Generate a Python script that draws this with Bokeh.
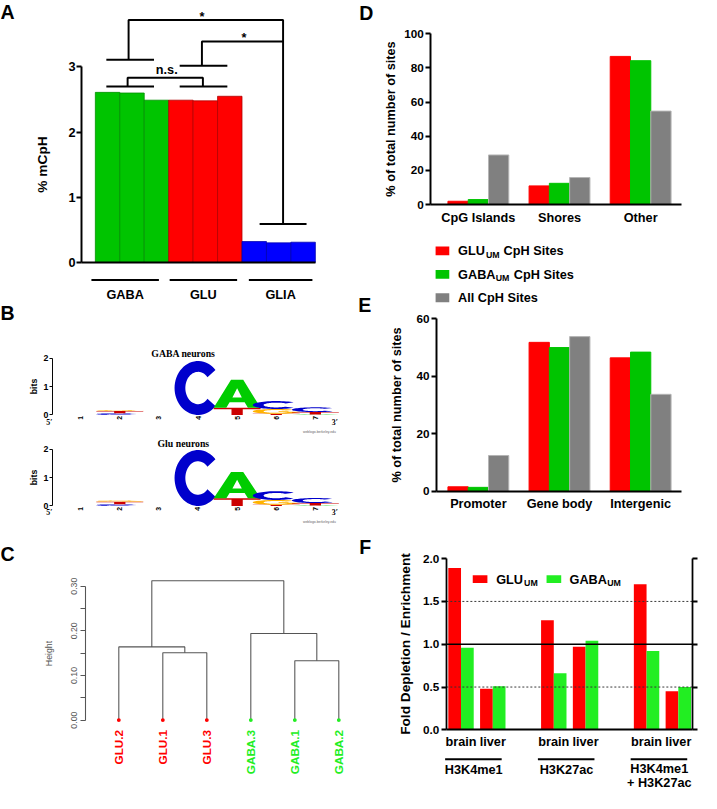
import math
from bokeh.plotting import figure
from bokeh.layouts import row, column
from bokeh.models import Range1d, LinearAxis, FixedTicker, PrintfTickFormatter
from bokeh.core.properties import value
from bokeh.embed import file_html
from bokeh.resources import INLINE

S = 701 / 717.0
SANS = "Liberation Sans"
SERIF = "Liberation Serif"

# ---------------- data ----------------
# Panel A : % mCpH per replicate
a_groups = ["GABA", "GLU", "GLIA"]
a_values = [2.61, 2.60, 2.49, 2.49, 2.48, 2.55, 0.32, 0.30, 0.31]
a_ticks = [0, 1, 2, 3]

# Panel B : sequence logos (letter, bits) stacked bottom -> top per position
logo_positions = [1, 2, 3, 4, 5, 6, 7]
gaba_stacks = [
    [],
    [("C", 0.06), ("T", 0.08), ("G", 0.03)],
    [],
    [("C", 1.90)],
    [("T", 0.25), ("A", 0.99)],
    [("T", 0.04), ("G", 0.17), ("C", 0.28)],
    [("A", 0.02), ("T", 0.08), ("C", 0.17)],
]
glu_stacks = [
    [],
    [("C", 0.06), ("T", 0.09), ("G", 0.04)],
    [],
    [("C", 1.97)],
    [("T", 0.27), ("A", 0.93)],
    [("T", 0.04), ("G", 0.17), ("C", 0.31)],
    [("A", 0.02), ("T", 0.08), ("C", 0.18)],
]
logo_bits_ticks = [0, 1, 2]

# Panel C : hierarchical clustering
c_leaves = ["GLU.2", "GLU.1", "GLU.3", "GABA.3", "GABA.1", "GABA.2"]
c_merge_a = ["GLU.1", "GLU.2", "GABA.1", "GABA.3", "m1"]
c_merge_b = ["GLU.3", "m0", "GABA.2", "m2", "m3"]
c_merge_h = [0.151, 0.164, 0.133, 0.194, 0.312]
c_ticks = [0.0, 0.1, 0.2, 0.3]
c_minor = [0.05, 0.15, 0.25]

# Panel D
d_categories = ["CpG Islands", "Shores", "Other"]
d_glu = [1.9, 10.9, 86.7]
d_gaba = [2.9, 12.4, 84.2]
d_all = [29.0, 15.8, 54.7]
d_ticks = [0, 20, 40, 60, 80, 100]

# Panel E
e_categories = ["Promoter", "Gene body", "Intergenic"]
e_glu = [1.5, 51.8, 46.4]
e_gaba = [1.3, 50.0, 48.4]
e_all = [12.4, 53.8, 33.7]
e_ticks = [0, 20, 40, 60]

# Panel F
f_marks = ["H3K4me1", "H3K27ac", "H3K4me1 + H3K27ac"]
f_tissues = ["brain", "liver"]
f_glu = [1.89, 0.48, 1.28, 0.97, 1.70, 0.45]
f_gaba = [0.96, 0.51, 0.66, 1.04, 0.92, 0.50]
f_ticks = [0.0, 0.5, 1.0, 1.5, 2.0]

series_names = ["GLU", "GABA", "All CpH Sites"]

RED = "#FF0000"
GREEN = "#00C400"
GRAY = "#808080"
BLUE = "#0000FF"
LIME = "#22EE22"


def fs(n):
    return "%.2fpx" % (n * S)


def ipx(n):
    return int(round(n * S))


def make_fig(box, xcal, ycal):
    bx0, by0, bx1, by1 = box
    W = round(bx1 * S) - round(bx0 * S)
    H = round(by1 * S) - round(by0 * S)
    (xp0, xv0), (xp1, xv1) = xcal
    (yp0, yv0), (yp1, yv1) = ycal
    kx = (xv1 - xv0) / (xp1 - xp0)
    ky = (yv1 - yv0) / (yp1 - yp0)

    def X(px):
        return xv0 + (px - xp0) * kx

    def Y(py):
        return yv0 + (py - yp0) * ky

    p = figure(width=W, height=H, x_range=Range1d(X(bx0), X(bx1)),
               y_range=Range1d(Y(by1), Y(by0)), output_backend="svg",
               toolbar_location=None, tools="", min_border=0,
               x_axis_location=None, y_axis_location=None)
    p.outline_line_color = None
    p.background_fill_color = "white"
    p.border_fill_color = "white"
    p.xgrid.visible = False
    p.ygrid.visible = False
    p.grid.grid_line_color = None
    return p, X, Y, kx, ky


def style_axis(ax, size, bold=True, lw=2.0, tick_out=5, color="black",
               font=SANS, label_size=None, std=2, lstd=5):
    ax.axis_line_width = lw * S
    ax.axis_line_color = color
    ax.major_tick_line_width = lw * S
    ax.major_tick_line_color = color
    ax.major_tick_out = ipx(tick_out)
    ax.major_tick_in = 0
    ax.minor_tick_line_color = None
    ax.major_label_text_font = font
    ax.major_label_text_font_size = fs(size)
    ax.major_label_text_font_style = "bold" if bold else "normal"
    ax.major_label_text_color = color
    ax.major_label_standoff = ipx(std)
    ax.axis_label_text_font = font
    ax.axis_label_text_font_size = fs(label_size or size)
    ax.axis_label_text_font_style = "bold" if bold else "normal"
    ax.axis_label_text_color = color
    ax.axis_label_standoff = ipx(lstd)


def txt(p, x, y, s, size, color="black", bold=True, font=SANS,
        align="center", baseline="middle", angle=0.0):
    p.text(x=[x], y=[y], text=[s], text_font=value(font),
           text_font_size=value(fs(size)),
           text_font_style="bold" if bold else "normal",
           text_color=color, text_align=align, text_baseline=baseline,
           angle=angle)


def panel_letter(p, X, Y, px, py, s):
    txt(p, X(px), Y(py), s, 20, align="left", baseline="top")


# ================= Panel A =================
A, AX, AY, akx, aky = make_fig((0, 0, 360, 308), ((109.5, 0), (134.5, 1)), ((268, 0), (68, 3)))
a_fill = []
a_line = []
for g in range(len(a_groups)):
    a_fill += [[GREEN, RED, BLUE][g]] * 3
    a_line += [["#009000", "#B00000", "#0000B0"][g]] * 3
A.vbar(x=list(range(len(a_values))), width=1.0, bottom=0, top=a_values,
       fill_color=a_fill, line_color=a_line, line_width=0.8 * S)

ya = LinearAxis(fixed_location=AX(83), bounds=(0, 3), ticker=FixedTicker(ticks=a_ticks),
                axis_label="% mCpH")
style_axis(ya, 13, std=1, lstd=15, label_size=14)
A.add_layout(ya, "left")
xa = LinearAxis(fixed_location=0, bounds=(AX(83), AX(322)), ticker=FixedTicker(ticks=[]))
style_axis(xa, 13)
A.add_layout(xa, "below")

# significance brackets (annotation, in bar / value units)
br_x = [[-0.05, 1.9], [2.95, 4.9], [0.82, 0.82, 3.9, 3.9],
        [-0.05, 1.9], [2.95, 4.9], [6.22, 8.14],
        [0.86, 0.86, 7.18, 7.18], [3.86, 3.86, 7.18]]
br_y = [[2.70, 2.70], [2.70, 2.70], [2.70, 2.835, 2.835, 2.70],
        [3.11, 3.11], [3.02, 3.02], [0.59, 0.59],
        [3.11, 3.72, 3.72, 0.59], [3.02, 3.39, 3.39]]
A.multi_line(xs=br_x, ys=br_y, line_color="black", line_width=2 * S)
txt(A, 2.42, 2.96, "n.s.", 13)
txt(A, 3.86, AY(16), "*", 13)
txt(A, 5.58, AY(38), "*", 13)

# group labels below the axis
grp_lo = [-0.66, 2.54, 5.78]
grp_hi = [2.10, 5.30, 8.38]
A.multi_line(xs=[[l, h] for l, h in zip(grp_lo, grp_hi)], ys=[[AY(286)] * 2] * 3,
             line_color="black", line_width=2 * S)
for g, name in enumerate(a_groups):
    txt(A, (grp_lo[g] + grp_hi[g]) / 2, AY(301), name, 13)
panel_letter(A, AX, AY, 0, 0, "A")

# ================= Panel B =================
LOGO_COL = {"A": "#00CC00", "C": "#0000CC", "G": "#FFB300", "T": "#CC0000"}


def arc_ring(a0, a1, ro_x, ro_y, ri_x, ri_y, n=48):
    xs, ys = [], []
    for k in range(n + 1):
        t = a0 + (a1 - a0) * k / n
        xs.append(0.5 + ro_x * math.cos(t))
        ys.append(0.5 + ro_y * math.sin(t))
    for k in range(n + 1):
        t = a1 - (a1 - a0) * k / n
        xs.append(0.5 + ri_x * math.cos(t))
        ys.append(0.5 + ri_y * math.sin(t))
    return xs, ys


def unit_shape(letter):
    if letter == "C":
        return [[arc_ring(math.radians(42), math.radians(318), 0.5, 0.5, 0.27, 0.30)]]
    if letter == "G":
        ring = arc_ring(math.radians(40), math.radians(360), 0.5, 0.5, 0.27, 0.30)
        bar = ([0.55, 1.0, 1.0, 0.55], [0.36, 0.36, 0.52, 0.52])
        return [[ring], [bar]]
    if letter == "A":
        outer = ([0.0, 0.37, 0.63, 1.0, 0.73, 0.66, 0.34, 0.27],
                 [0.0, 1.0, 1.0, 0.0, 0.0, 0.2, 0.2, 0.0])
        hole = ([0.40, 0.60, 0.50], [0.37, 0.37, 0.70])
        return [[outer, hole]]
    # T
    return [[([0, 1, 1, 0.62, 0.62, 0.38, 0.38, 0], [1, 1, 0.82, 0.82, 0, 0, 0.82, 0.82])]]


def draw_logo(p, stacks, width):
    XS, YS, COLS = [], [], []
    for pos, stack in zip(logo_positions, stacks):
        y0 = 0.0
        for letter, h in stack:
            polys_x, polys_y = [], []
            for poly in unit_shape(letter):
                rx, ry = [], []
                for ring_x, ring_y in poly:
                    rx.append([pos + (u - 0.5) * width for u in ring_x])
                    ry.append([y0 + v * h for v in ring_y])
                polys_x.append(rx)
                polys_y.append(ry)
            XS.append(polys_x)
            YS.append(polys_y)
            COLS.append(LOGO_COL[letter])
            y0 += h
    p.multi_polygons(xs=XS, ys=YS, fill_color=COLS, line_color=None)


def logo_panel(box, base_px, title, title_py, lab_py, web_py, letter=None):
    p, X, Y, kx, ky = make_fig(box, ((82, 1), (122, 2)), ((base_px, 0), (base_px - 29, 1)))
    draw_logo(p, title[1], 1.2)
    yb = LinearAxis(fixed_location=X(53), bounds=(0, 2), ticker=FixedTicker(ticks=logo_bits_ticks),
                    axis_label="bits")
    style_axis(yb, 9, lw=1, tick_out=3, std=1, lstd=2)
    p.add_layout(yb, "left")
    xb = LinearAxis(fixed_location=0, ticker=FixedTicker(ticks=logo_positions),
                    major_label_orientation=math.pi / 2)
    style_axis(xb, 7, lw=1, tick_out=0, std=1)
    xb.axis_line_color = None
    xb.major_tick_line_color = None
    p.add_layout(xb, "below")
    txt(p, X(187), Y(title_py), title[0], 10, font=SERIF)
    txt(p, X(50), Y(lab_py), "5\u2032", 8, font=SERIF)
    txt(p, X(342), Y(lab_py), "3\u2032", 8, font=SERIF)
    txt(p, X(343), Y(web_py), "weblogo.berkeley.edu", 3.5, color="#666666", bold=False, align="right")
    if letter:
        panel_letter(p, X, Y, 0, 309, letter)
    return p


B1 = logo_panel((0, 308, 360, 445), 424, ("GABA neurons", gaba_stacks), 361, 432, 441, "B")
B2 = logo_panel((0, 445, 360, 538), 517, ("Glu neurons", glu_stacks), 453, 524, 533)

# ================= Panel C =================
C, CX, CY, ckx, cky = make_fig((0, 538, 360, 809), ((121, 1), (166, 2)), ((736, 0), (599, 0.30)))
node = {name: (i + 1, 0.0) for i, name in enumerate(c_leaves)}
seg_x, seg_y = [], []
for k, (a, b, h) in enumerate(zip(c_merge_a, c_merge_b, c_merge_h)):
    xa_, ha = node[a]
    xb_, hb = node[b]
    seg_x += [[xa_, xa_, xb_, xb_]]
    seg_y += [[ha, h, h, hb]]
    node["m%d" % k] = ((xa_ + xb_) / 2.0, h)
C.multi_line(xs=seg_x, ys=seg_y, line_color="#555555", line_width=1.1 * S)
leaf_cols = [RED if n.startswith("GLU") else LIME for n in c_leaves]
C.scatter(x=[i + 1 for i in range(len(c_leaves))], y=[0.0] * len(c_leaves), size=4 * S,
          fill_color=leaf_cols, line_color=None)
C.text(x=[i + 1 for i in range(len(c_leaves))], y=[CY(746)] * len(c_leaves), text=c_leaves,
       text_font=value(SANS), text_font_size=value(fs(12)), text_font_style="bold",
       text_color=leaf_cols, text_align="right", text_baseline="middle", angle=math.pi / 2)
yc = LinearAxis(fixed_location=CX(87), bounds=(0, 0.3),
                ticker=FixedTicker(ticks=c_ticks, minor_ticks=c_minor),
                formatter=PrintfTickFormatter(format="%.2f"), axis_label="Height",
                major_label_orientation="vertical")
style_axis(yc, 9, bold=False, lw=1.1, tick_out=5, color="#555555", std=4, lstd=14)
yc.minor_tick_line_color = "#555555"
yc.minor_tick_line_width = 1.1 * S
yc.minor_tick_out = ipx(5)
yc.minor_tick_in = 0
C.add_layout(yc, "left")
panel_letter(C, CX, CY, 0, 555, "C")


# ================= Panels D / E =================
def region_panel(box, ycal, axis_px, cats, s_glu, s_gaba, s_all, ticks, lab_std):
    p, X, Y, kx, ky = make_fig(box, ((468, 0), (488.75, 1)), ycal)
    for s, (vals, col) in enumerate(zip([s_glu, s_gaba, s_all], [RED, GREEN, GRAY])):
        p.vbar(x=[g * 4 + s for g in range(len(cats))], width=1.0, bottom=0, top=vals,
               fill_color=col, line_color=("#B4B4B4" if col == GRAY else col), line_width=1.0 * S)
    yax = LinearAxis(fixed_location=X(axis_px), bounds=(0, ticks[-1]),
                     ticker=FixedTicker(ticks=ticks), axis_label="% of total number of sites")
    style_axis(yax, 12, lw=2, tick_out=5, std=2, lstd=lab_std, label_size=13)
    p.add_layout(yax, "left")
    centers = [g * 4 + 1 for g in range(len(cats))]
    xax = LinearAxis(fixed_location=0, bounds=(X(axis_px), X(697)), ticker=FixedTicker(ticks=centers),
                     major_label_overrides={c: n for c, n in zip(centers, cats)})
    style_axis(xax, 13, lw=2, tick_out=0, std=5)
    xax.major_tick_line_color = None
    p.add_layout(xax, "below")
    return p, X, Y, kx, ky


D, DX, DY, dkx, dky = region_panel((360, 0, 717, 293), ((209, 0), (34, 100)), 440,
                                   d_categories, d_glu, d_gaba, d_all, d_ticks, 3)
E, EX, EY, ekx, eky = region_panel((360, 293, 717, 530), ((502, 0), (326, 60)), 446,
                                   e_categories, e_glu, e_gaba, e_all, e_ticks, 9)
panel_letter(D, DX, DY, 367, 2, "D")
panel_letter(E, EX, EY, 366, 301, "E")
# legend (rows 1-2 inside D's canvas, row 3 inside E's canvas)
leg_rows = [256.5, 280.5, 304.5]
D.rect(x=[DX(452)] * 2, y=[DY(r) for r in leg_rows[:2]], width=14 * dkx, height=-9 * dky,
       fill_color=[RED, GREEN], line_color=None)
E.rect(x=[EX(452)], y=[EY(leg_rows[2])], width=14 * ekx, height=-9 * eky,
       fill_color=[GRAY], line_color=None)
txt(D, DX(468), DY(leg_rows[0]), series_names[0], 13, align="left")
txt(D, DX(496.5), DY(leg_rows[0] + 4), "UM", 9, align="left")
txt(D, DX(514.5), DY(leg_rows[0]), "CpH Sites", 13, align="left")
txt(D, DX(468), DY(leg_rows[1]), series_names[1], 13, align="left")
txt(D, DX(506.5), DY(leg_rows[1] + 4), "UM", 9, align="left")
txt(D, DX(525), DY(leg_rows[1]), "CpH Sites", 13, align="left")
txt(E, EX(468), EY(leg_rows[2]), series_names[2], 13, align="left")

# ================= Panel F =================
F, FX, FY, fkx, fky = make_fig((360, 530, 717, 809), ((464.5, 0), (477.5, 1)), ((746, 0), (571, 2.0)))
f_x = [G * 7.3 + t * 2.5 for G in range(len(f_marks)) for t in range(len(f_tissues))]
F.vbar(x=f_x, width=1.0, bottom=0, top=f_glu, fill_color=RED, line_color=None)
F.vbar(x=[x + 1 for x in f_x], width=1.0, bottom=0, top=f_gaba, fill_color=LIME, line_color=None)
xl, xr = FX(456), FX(708)
F.segment(x0=[xl, xl], y0=[0.5, 1.5], x1=[xr, xr], y1=[0.5, 1.5], line_color="#333333",
          line_width=1.0 * S, line_dash="2 2")
F.segment(x0=[xl], y0=[1.0], x1=[xr], y1=[1.0], line_color="black", line_width=1.6 * S)
yf = LinearAxis(fixed_location=xl, bounds=(0, 2), ticker=FixedTicker(ticks=f_ticks),
                formatter=PrintfTickFormatter(format="%.1f"), axis_label="Fold Depletion / Enrichment")
style_axis(yf, 12, lw=1.8, tick_out=5, std=2, lstd=7, label_size=14)
F.add_layout(yf, "left")
yf2 = LinearAxis(fixed_location=xr, bounds=(0, 2), ticker=FixedTicker(ticks=f_ticks))
style_axis(yf2, 12, lw=1.8, tick_out=5)
yf2.major_label_text_alpha = 0.0
F.add_layout(yf2, "right")
pair_c = [x + 0.5 for x in f_x]
tiss_labels = {c: f_tissues[i % 2] for i, c in enumerate(pair_c)}
xf = LinearAxis(fixed_location=0, bounds=(xl, xr), ticker=FixedTicker(ticks=pair_c),
                major_label_overrides=tiss_labels)
style_axis(xf, 13, lw=1.8, tick_out=0, std=4)
xf.major_tick_line_color = None
F.add_layout(xf, "below")
grp_c = [G * 7.3 + 1.5 for G in range(len(f_marks))]
F.multi_line(xs=[[c - 2.25, c + 2.2] for c in grp_c], ys=[[FY(776)] * 2] * 3,
             line_color="black", line_width=2 * S)
txt(F, grp_c[0], FY(787), f_marks[0], 13)
txt(F, grp_c[1], FY(787), f_marks[1], 13)
txt(F, grp_c[2], FY(786), f_marks[2].split(" + ")[0], 13)
txt(F, grp_c[2], FY(800), "+ " + f_marks[2].split(" + ")[1], 13)
F.rect(x=[FX(490.5), FX(566)], y=[FY(592)] * 2, width=15 * fkx, height=-8 * fky,
       fill_color=[RED, LIME], line_color=None)
txt(F, FX(507), FY(592), "GLU", 13, align="left")
txt(F, FX(535.5), FY(596), "UM", 9, align="left")
txt(F, FX(582), FY(592), "GABA", 13, align="left")
txt(F, FX(620.5), FY(596), "UM", 9, align="left")
panel_letter(F, FX, FY, 367, 548, "F")

layout = row(column(A, B1, B2, C), column(D, E, F))
open("out.html", "w").write(file_html(layout, INLINE))
